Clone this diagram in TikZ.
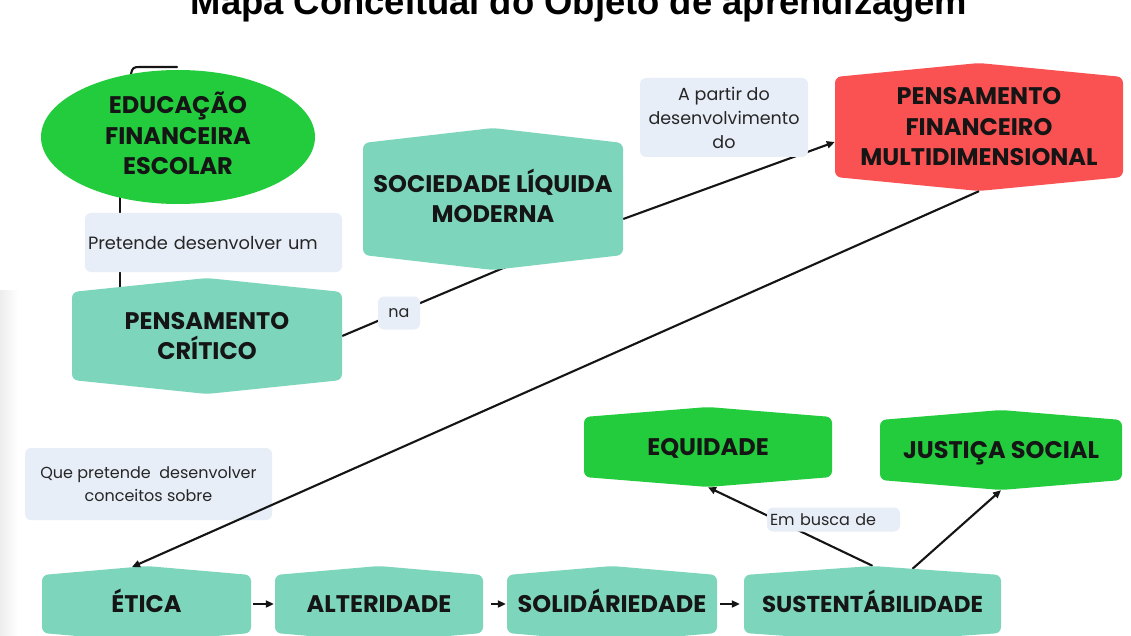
\documentclass[tikz,border=0pt]{standalone}
\usepackage{fontspec}
\setmainfont{Poppins}
\newfontfamily\titlefont{Liberation Sans}
\usetikzlibrary{shapes.geometric,arrows.meta,calc}
\definecolor{grn}{HTML}{22CC3C}
\definecolor{tealc}{HTML}{7DD6BC}
\definecolor{redc}{HTML}{FA5252}
\definecolor{lbl}{HTML}{E8EEF8}
\definecolor{ink}{HTML}{151515}
\definecolor{lbltext}{HTML}{262626}
\pgfdeclarelayer{bg}
\pgfsetlayers{bg,main}
\tikzset{
  nodetext/.style={font=\fontsize{24}{30.5}\selectfont\bfseries, text=ink, align=center, inner sep=0pt},
  oneline/.style={text height=16.8pt, text depth=0pt},
  lblbox/.style={fill=lbl, rounded corners=6pt, inner sep=0pt, font=\fontsize{16}{23.5}\selectfont, text=lbltext, align=center},
  conn/.style={draw=ink, line width=2.1pt},
  arr/.style={conn, -{Triangle[length=8pt,width=7pt]}},
}
% [options], name, cx, cy, half width, half height (corners), peak, colour, text
\newcommand\hexnode[9][]{%
  \fill[#8, rounded corners=6pt] (#3-#5,#4-#6) -- (#3,#4-#6-#7) -- (#3+#5,#4-#6)
     -- (#3+#5,#4+#6) -- (#3,#4+#6+#7) -- (#3-#5,#4+#6) -- cycle;
  \node[nodetext, minimum width=2*#5, minimum height=2*#6+2*#7, #1] (#2) at (#3,#4) {#9};
}
\begin{document}
\begin{tikzpicture}[x=1pt,y=-1pt]
\useasboundingbox (0,0) rectangle (1131,636);
\begin{pgfonlayer}{bg}
\fill[white] (0,0) rectangle (1131,636);
\shade[left color=black!7, right color=white] (0,290) rectangle (18,636);
\end{pgfonlayer}

% title (cut by the top edge)
\node[font=\titlefont\bfseries\fontsize{36.4}{40}\selectfont, anchor=base, text=black, inner sep=0pt] (title) at (579,15) {Mapa Conceitual do Objeto de aprendizagem};

% nodes
\fill[grn] (178,137) ellipse [x radius=137, y radius=67];
\node[ellipse, minimum width=274, minimum height=134, inner sep=0pt, nodetext] (edu) at (178,133.5) {EDUCAÇÃO\\FINANCEIRA\\ESCOLAR};
\hexnode{pc}{207}{336}{135}{44}{14}{tealc}{PENSAMENTO\\CRÍTICO}
\hexnode[yshift=3pt]{slm}{493}{199}{130}{56}{15}{tealc}{SOCIEDADE LÍQUIDA\\MODERNA}
\hexnode{pfm}{979}{127}{144}{50}{14}{redc}{PENSAMENTO\\FINANCEIRO\\MULTIDIMENSIONAL}
\hexnode[oneline]{eq}{708}{447}{124}{30}{10}{grn}{EQUIDADE}
\hexnode[oneline]{js}{1001}{450}{121}{30}{10}{grn}{JUSTIÇA SOCIAL}
\hexnode[oneline]{etica}{146.5}{604}{104.5}{29}{9}{tealc}{ÉTICA}
\hexnode[oneline]{alt}{379}{604}{104}{29}{9}{tealc}{ALTERIDADE}
\hexnode[oneline]{sol}{612}{604}{105}{29}{9}{tealc}{SOLIDÁRIEDADE}
\hexnode[oneline, font=\fontsize{23}{30}\selectfont\bfseries]{sus}{872.5}{604}{128.5}{29}{9}{tealc}{SUSTENTÁBILIDADE}

% labels
\node[lblbox, minimum width=257, minimum height=59, text width=251, align=left, font=\fontsize{17.8}{24}\selectfont] (l1) at (213.5,242.5) {Pretende desenvolver um};
\node[lblbox, minimum width=168, minimum height=79, font=\fontsize{17.5}{24}\selectfont] (l2) at (724,117.5) {A partir do\\desenvolvimento\\do};
\node[lblbox, minimum width=42, minimum height=33] (l3) at (399,313) {na};
\node[lblbox, minimum width=247, minimum height=72] (l4) at (148.5,484) {Que pretende\ \ desenvolver\\conceitos sobre};
\node[lblbox, minimum width=133, minimum height=24, text width=127, align=left] (l5) at (833.5,519.5) {Em busca de};

% connectors
\begin{pgfonlayer}{bg}
\draw[conn, line cap=round] (131,74) .. controls (132,68) and (134,67) .. (139,67) -- (177,67);
\draw[conn] ($(edu.center)+(-58,40)$) -- ($(pc.center)+(-87,-40)$);
\draw[conn] (pc.east) -- ($(slm.south)+(24,-5)$);
\draw[arr] ($(slm.east)+(0,23)$) -- ($(pfm.west)+(0,15)$);
\draw[arr] ($(etica.east)+(2,0)$) -- ($(alt.west)+(-1,0)$);
\draw[arr] ($(alt.east)+(8,0)$) -- ($(sol.west)+(-1,0)$);
\draw[arr] ($(sol.east)+(3,0)$) -- ($(sus.west)+(-4,0)$);
\draw[arr] (sus.north) -- (eq.south);
\draw[arr] ($(sus.north)+(40,3)$) -- (js.south);
\end{pgfonlayer}
\draw[arr] (pfm.south) -- ($(etica.north)+(-14.5,1.2)$);
\end{tikzpicture}
\end{document}
